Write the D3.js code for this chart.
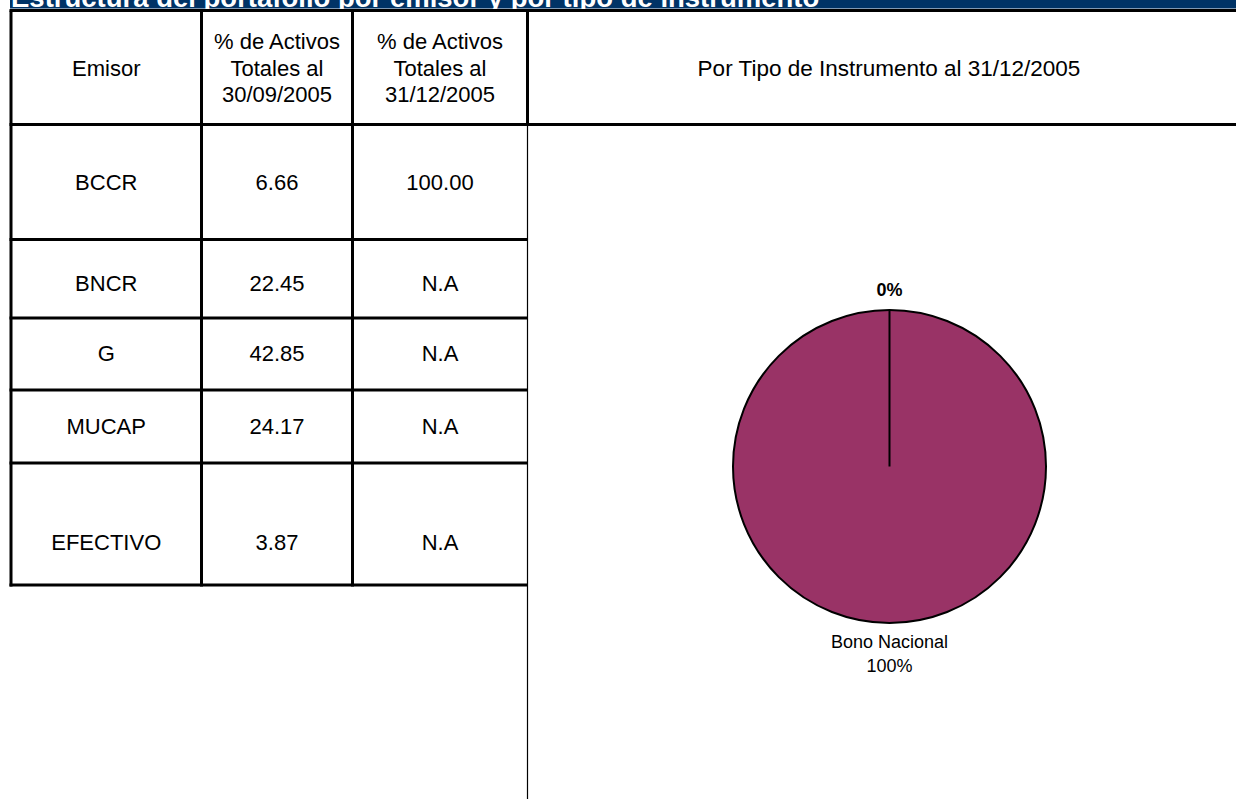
<!DOCTYPE html>
<html>
<head>
<meta charset="utf-8">
<script src="https://cdn.jsdelivr.net/npm/d3@7"></script>
<style>
  body { margin: 0; background: #fff; }
  text { font-family: "Liberation Sans", Arial, sans-serif; fill: #000; }
</style>
</head>
<body>
<div id="container"></div>
<script>
const WIDTH = 1236;
const HEIGHT = 799;

// table data
const emisores = ['BCCR', 'BNCR', 'G', 'MUCAP', 'EFECTIVO'];
const activosSep = [6.66, 22.45, 42.85, 24.17, 3.87];
const activosDic = [100.00, null, null, null, null];
const headers = [['Emisor'], ['% de Activos', 'Totales al', '30/09/2005'], ['% de Activos', 'Totales al', '31/12/2005']];

// pie data
const instrumentos = ['Bono Nacional', ''];
const porcentajes = [100, 0];

const TITLE = 'Estructura del portafolio por emisor y por tipo de instrumento';
const PIE_TITLE = 'Por Tipo de Instrumento al 31/12/2005';

// layout
const colX = [11, 201.5, 352.5, 527.5];
const rowY = [10.5, 124.5, 239.5, 318, 390, 463, 585];
const textY = [182, 283, 353, 426, 542];   // vertical text centres of body rows
const FONT = 22;

const svg = d3.select('#container')
              .append('svg')
                .attr('width', WIDTH)
                .attr('height', HEIGHT);

// title bar
svg.append('rect')
     .attr('x', 10)
     .attr('y', 0)
     .attr('width', WIDTH - 10)
     .attr('height', 8.5)
     .attr('fill', '#003366');

svg.append('text')
     .attr('x', 11)
     .attr('y', 7)
     .attr('font-size', 27.5)
     .attr('font-weight', 'bold')
     .style('fill', '#fff')
     .text(TITLE);

const table = svg.append('g').attr('id', 'table');

const colCenter = i => (colX[i] + colX[i + 1]) / 2;
const rowCenter = i => (rowY[i] + rowY[i + 1]) / 2;

// header cells
headers.forEach((lines, i) => {
    const t = table.append('text')
                     .attr('text-anchor', 'middle')
                     .attr('font-size', FONT);
    const lh = 26.5;
    lines.forEach((l, j) => {
        t.append('tspan')
           .attr('x', colCenter(i))
           .attr('y', rowCenter(0) + (j - (lines.length - 1) / 2) * lh + 8)
           .text(l);
    });
});

table.append('text')
       .attr('x', 889)
       .attr('y', rowCenter(0) + 8)
       .attr('text-anchor', 'middle')
       .attr('font-size', 22.5)
       .text(PIE_TITLE);

// body rows
const fmt = d3.format('.2f');
const rows = emisores.map((e, i) => [e, fmt(activosSep[i]), activosDic[i] == null ? 'N.A' : fmt(activosDic[i])]);

rows.forEach((r, i) => {
    r.forEach((v, j) => {
        table.append('text')
               .attr('x', colCenter(j))
               .attr('y', textY[i] + 8)
               .attr('text-anchor', 'middle')
               .attr('font-size', FONT)
               .text(v);
    });
});

// grid lines
const thick = 3;
// horizontal
table.append('line')
       .attr('x1', colX[0] - 1.5).attr('x2', WIDTH)
       .attr('y1', rowY[0]).attr('y2', rowY[0])
       .attr('stroke', '#000').attr('stroke-width', thick);
table.append('line')
       .attr('x1', colX[0] - 1.5).attr('x2', WIDTH)
       .attr('y1', rowY[1]).attr('y2', rowY[1])
       .attr('stroke', '#000').attr('stroke-width', thick);
table.selectAll('line.row')
       .data(rowY.slice(2))
       .enter()
       .append('line')
         .attr('class', 'row')
         .attr('x1', colX[0] - 1.5)
         .attr('x2', colX[3])
         .attr('y1', d => d)
         .attr('y2', d => d)
         .attr('stroke', '#000')
         .attr('stroke-width', thick);
// vertical
table.selectAll('line.col')
       .data(colX.slice(0, 3))
       .enter()
       .append('line')
         .attr('class', 'col')
         .attr('x1', d => d)
         .attr('x2', d => d)
         .attr('y1', rowY[0])
         .attr('y2', rowY[rowY.length - 1] + 1.5)
         .attr('stroke', '#000')
         .attr('stroke-width', thick);
table.append('line')
       .attr('x1', colX[3]).attr('x2', colX[3])
       .attr('y1', rowY[0]).attr('y2', rowY[1])
       .attr('stroke', '#000').attr('stroke-width', thick);
table.append('line')
       .attr('x1', colX[3]).attr('x2', colX[3])
       .attr('y1', rowY[1]).attr('y2', HEIGHT)
       .attr('stroke', '#000').attr('stroke-width', 1.2);

// pie
const CX = 889.5, CY = 466.5, R = 156.5, LABEL_R = 168;

const pie = d3.pie().sort(null).value(d => d.value);
const arcs = pie(instrumentos.map((name, i) => ({name, value: porcentajes[i]})));
const arc = d3.arc().innerRadius(0).outerRadius(R);
const labelArc = d3.arc().innerRadius(LABEL_R).outerRadius(LABEL_R);

const pieG = svg.append('g')
                  .attr('transform', `translate(${CX}, ${CY})`);

pieG.selectAll('path')
      .data(arcs)
      .enter()
      .append('path')
        .attr('d', arc)
        .attr('fill', '#993366')
        .attr('stroke', '#000')
        .attr('stroke-width', 2);

const total = d3.sum(porcentajes);
arcs.forEach(d => {
    const [x, y] = labelArc.centroid(d);
    const pct = Math.round(d.data.value / total * 100) + '%';
    const lines = d.data.name ? [d.data.name, pct] : [pct];
    const t = pieG.append('text')
                    .attr('text-anchor', 'middle')
                    .attr('font-size', 18)
                    .attr('font-weight', d.data.name ? 'normal' : 'bold');
    lines.forEach((l, j) => {
        const by = y > 0 ? y + 13 + j * 24 : y - 3 - (lines.length - 1 - j) * 24;
        t.append('tspan')
           .attr('x', x)
           .attr('y', by)
           .text(l);
    });
});
</script>
</body>
</html>
